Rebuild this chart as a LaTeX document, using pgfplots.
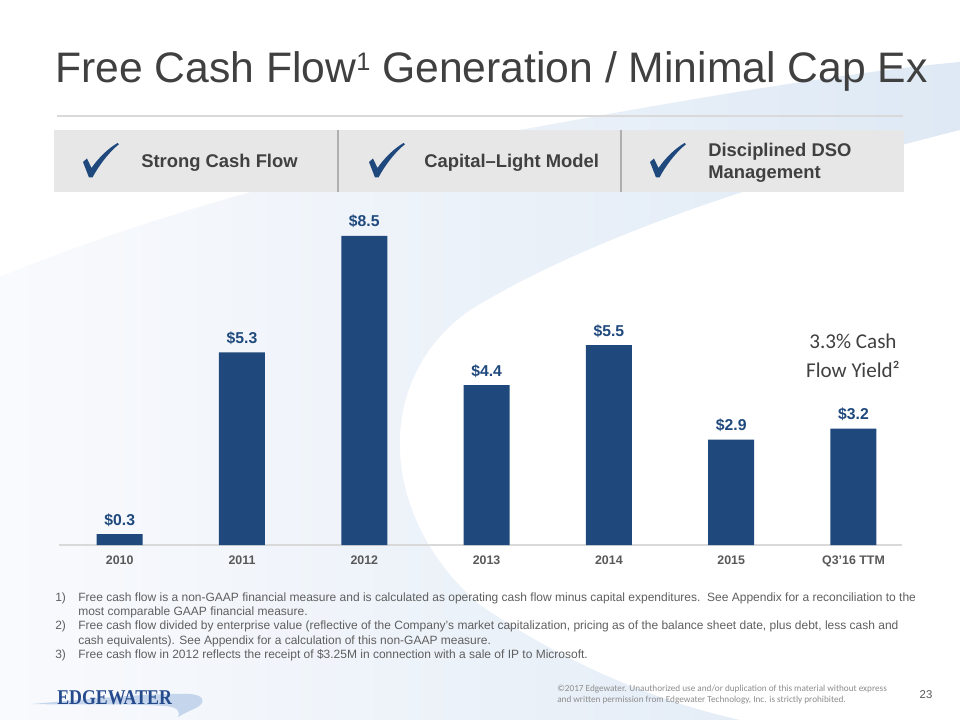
\documentclass[border=0pt]{standalone}
\usepackage{pgfplots}
\pgfplotsset{compat=1.18}
\usepackage{fontspec}
\setmainfont{Liberation Sans}
\newfontfamily\carlito{Carlito}
\newfontfamily\lserif{Liberation Serif}
\definecolor{barblue}{RGB}{31,73,125}
\definecolor{titlegrey}{RGB}{64,64,64}
\definecolor{tickgrey}{RGB}{89,89,89}
\definecolor{notegrey}{RGB}{95,95,95}
\definecolor{bannergrey}{RGB}{231,231,231}
\definecolor{divgrey}{RGB}{175,175,175}
\definecolor{rulegrey}{RGB}{217,217,217}
\definecolor{copygrey}{RGB}{140,140,140}
\definecolor{logoblue}{RGB}{38,75,140}
\definecolor{swoosh}{RGB}{196,213,236}
\definecolor{bgleft}{RGB}{249,250,253}
\definecolor{bgright}{RGB}{222,233,245}
\newcommand{\checkm}[2]{\fill[barblue, shift={(#1,#2)}] (0,19) -- (4,15.5) -- (8.5,25) .. controls (16,14) and (26,5) .. (34.5,0) -- (36,1.2) .. controls (25,10) and (15,24) .. (9.5,34.5) -- (6,34.5) -- cycle;}
\begin{document}
\begin{tikzpicture}
\fill[white] (0,0) rectangle (720pt,-540pt);
\begin{scope}[x=0.75pt,y=-0.75pt]
% background swoosh
\shade[left color=bgleft, right color=bgright]
  (0,277) .. controls (150,215) and (350,160) .. (520,130)
  .. controls (700,97) and (850,72) .. (960,62) -- (960,130)
  .. controls (800,170) and (600,230) .. (470,310)
  .. controls (370,380) and (380,520) .. (480,605)
  .. controls (560,660) and (650,700) .. (740,720) -- (0,720) -- cycle;
% title
\node[anchor=base west, inner sep=0, text=titlegrey, font=\fontsize{32}{36}\selectfont] at (55,83)
  {Free Cash Flow\raisebox{9.3pt}{\fontsize{19}{19}\selectfont 1} Generation / Minimal Cap Ex};
\draw[rulegrey, line width=1.5pt] (57,116) -- (903,116);
% banner
\fill[bannergrey] (54,130) rectangle (904,192);
\draw[divgrey, line width=1.1pt] (338,130) -- (338,192);
\draw[divgrey, line width=1.1pt] (621,130) -- (621,192);
\checkm{83}{143}
\checkm{369}{143}
\checkm{650}{143}
\begin{scope}[every node/.style={anchor=base west, inner sep=0, text=titlegrey, font=\fontsize{13.8}{16}\selectfont\bfseries}]
\node at (141,168) {Strong Cash Flow};
\node at (424,168) {Capital–Light Model};
\node at (708,157) {Disciplined DSO};
\node at (708,179) {Management};
\end{scope}
% yield note
\node[anchor=base, inner sep=0, text=titlegrey, font=\carlito\fontsize{15.8}{18}\selectfont] at (853,349) {3.3\% Cash};
\node[anchor=base, inner sep=0, text=titlegrey, font=\carlito\fontsize{15.8}{18}\selectfont] at (853,377) {Flow Yield²};
% footnotes
\begin{scope}[every node/.style={anchor=base west, inner sep=0, text=notegrey, font=\fontsize{9}{11}\selectfont}]
\node at (55,601) {1)};
\node at (78,601) {Free cash flow is a non-GAAP financial measure and is calculated as operating cash flow minus capital expenditures.\ \ See Appendix for a reconciliation to the};
\node at (78,615) {most comparable GAAP financial measure.};
\node at (55,629.5) {2)};
\node at (78,629.5) {Free cash flow divided by enterprise value (reflective of the Company’s market capitalization, pricing as of the balance sheet date, plus debt, less cash and};
\node at (78,644) {cash equivalents). See Appendix for a calculation of this non-GAAP measure.};
\node at (55,658) {3)};
\node at (78,658) {Free cash flow in 2012 reflects the receipt of \$3.25M in connection with a sale of IP to Microsoft.};
\end{scope}
% logo
\fill[swoosh] (32,704) .. controls (90,699) and (150,693) .. (190,694)
  .. controls (205,695) and (206,703) .. (196,708)
  .. controls (189,711) and (183,714) .. (178,717)
  .. controls (181,711) and (177,707) .. (165,706)
  .. controls (120,703) and (70,705) .. (32,704) -- cycle;
\node[anchor=base west, inner sep=0, text=logoblue, font=\lserif\bfseries\fontsize{15.75}{17}\selectfont] at (57,704) {\scalebox{0.85}[1]{EDGEWATER}};
% copyright
\node[anchor=base west, inner sep=0, text=copygrey, font=\carlito\fontsize{6.9}{8}\selectfont] at (557,691) {©2017 Edgewater. Unauthorized use and/or duplication of this material without express};
\node[anchor=base west, inner sep=0, text=copygrey, font=\carlito\fontsize{6.9}{8}\selectfont] at (557,702) {and written permission from Edgewater Technology, Inc. is strictly prohibited.};
\node[anchor=base, inner sep=0, text=tickgrey, font=\fontsize{8.5}{10}\selectfont] at (926,698) {23};
\end{scope}
% chart
\begin{axis}[
  at={(43.91pt,-408.75pt)}, anchor=south west,
  scale only axis, width=632.9pt, height=245.4pt,
  xmin=-0.5, xmax=6.4, ymin=0, ymax=9,
  ybar, bar width=34.5pt,
  axis x line=bottom, hide y axis,
  x axis line style={draw=rulegrey, line width=1.5pt, -},
  xtick=data, xticklabels={2010,2011,2012,2013,2014,2015,Q3'16 TTM},
  major tick length=0pt,
  xticklabel style={font=\fontsize{9.3}{10}\selectfont\bfseries, text=tickgrey, anchor=base, yshift=-14.25pt},
  /pgf/number format/assume math mode=true,
  nodes near coords={\$\pgfmathprintnumber[fixed,fixed zerofill,precision=1]{\pgfplotspointmeta}},
  every node near coord/.append style={font=\fontsize{11.8}{13}\selectfont\bfseries, text=barblue, anchor=base, yshift=6.75pt},
  clip=false,
]
\addplot[fill=barblue, draw=none] coordinates {(0,0.3) (1,5.3) (2,8.5) (3,4.4) (4,5.5) (5,2.9) (6,3.2)};
\end{axis}
\pgfresetboundingbox
\path (0,0) rectangle (720pt,-540pt);
\end{tikzpicture}
\end{document}
